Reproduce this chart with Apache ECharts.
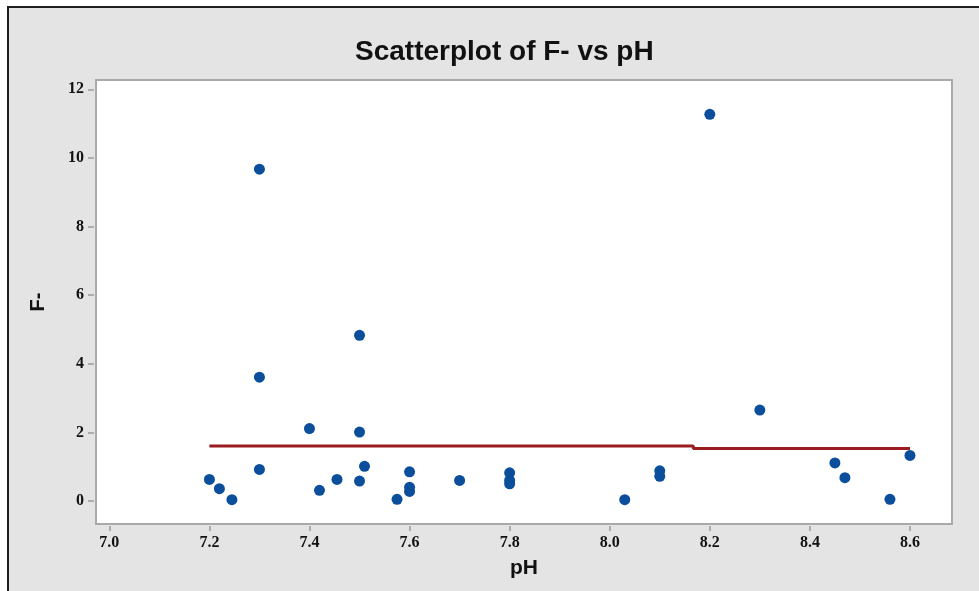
<!DOCTYPE html>
<html>
<head>
<meta charset="utf-8">
<title>Scatterplot of F- vs pH</title>
<script src="https://cdn.jsdelivr.net/npm/echarts@6/dist/echarts.min.js"></script>
<style>
  html, body { margin: 0; padding: 0; background: #fff; }
  /* outer graph window, black edge on top and left */
  .frame {
    position: absolute;
    left: 7px;
    top: 6px;
    width: 970px;
    height: 583px;
    border-left: 2px solid #1e1e1e;
    border-top: 2px solid #1e1e1e;
    background: #e4e4e4;
  }
  #chart { width: 970px; height: 583px; }
</style>
</head>
<body>
<div class="frame">
  <div id="chart"></div>
</div>
<script>
const phValues = [
  7.20, 7.22, 7.245, 7.30, 7.30, 7.30, 7.40, 7.42, 7.455, 7.50,
  7.50, 7.50, 7.51, 7.575, 7.60, 7.60, 7.60, 7.70, 7.80, 7.80,
  7.80, 8.03, 8.10, 8.10, 8.20, 8.30, 8.45, 8.47, 8.56, 8.60
]
const fValues = [
  0.63, 0.36, 0.04, 9.67, 3.61, 0.92, 2.11, 0.31, 0.63, 4.83,
  2.01, 0.58, 1.01, 0.05, 0.85, 0.40, 0.28, 0.60, 0.82, 0.60,
  0.50, 0.04, 0.88, 0.72, 11.27, 2.65, 1.11, 0.68, 0.05, 1.33
]

// smoother (nearly flat, small step near 8.17)
const fitPh = [7.20, 8.167, 8.167, 8.60]
const fitF = [1.60, 1.60, 1.53, 1.53]

// tick labels
const xTicks = [7.0, 7.2, 7.4, 7.6, 7.8, 8.0, 8.2, 8.4, 8.6]
const yTicks = [0, 2, 4, 6, 8, 10, 12]

const points = phValues.map((x, i) => [x, fValues[i]])
const fitLine = fitPh.map((x, i) => [x, fitF[i]])

const chart = echarts.init(document.getElementById('chart'))

const tickLabelStyle = {
  fontFamily: 'Liberation Serif',
  fontWeight: 'bold',
  fontSize: 16,
  color: '#111'
}

const option = {
  animation: false,
  backgroundColor: '#e4e4e4',
  title: {
    text: 'Scatterplot of F- vs pH',
    left: 341,
    top: 25,
    textStyle: {
      fontFamily: 'Liberation Sans',
      fontWeight: 'bold',
      fontSize: 28,
      color: '#111'
    }
  },
  grid: {
    left: 87,
    top: 72,
    right: 27,
    bottom: 67,
    show: true,
    backgroundColor: '#fff',
    borderColor: '#a9a9a9',
    borderWidth: 2
  },
  xAxis: {
    type: 'value',
    min: 6.9734,
    max: 8.684,
    offset: 2,
    name: 'pH',
    nameLocation: 'middle',
    nameGap: 32,
    nameTextStyle: {
      fontFamily: 'Liberation Sans',
      fontWeight: 'bold',
      fontSize: 21,
      color: '#111'
    },
    axisLine: { show: false, onZero: false },
    axisTick: {
      show: true,
      length: 5,
      customValues: xTicks,
      lineStyle: { color: '#9a9a9a', width: 1.5 }
    },
    axisLabel: {
      customValues: xTicks,
      margin: 9,
      formatter: v => v.toFixed(1),
      ...tickLabelStyle
    },
    splitLine: { show: false }
  },
  yAxis: {
    type: 'value',
    min: -0.67,
    max: 12.27,
    offset: 2,
    name: 'F-',
    nameLocation: 'middle',
    nameGap: 46,
    nameTextStyle: {
      fontFamily: 'Liberation Sans',
      fontWeight: 'bold',
      fontSize: 20,
      color: '#111'
    },
    axisLine: { show: false, onZero: false },
    axisTick: {
      show: true,
      length: 6,
      customValues: yTicks,
      lineStyle: { color: '#9a9a9a', width: 1.5 }
    },
    axisLabel: {
      customValues: yTicks,
      margin: 10,
      ...tickLabelStyle
    },
    splitLine: { show: false }
  },
  series: [
    {
      type: 'line',
      data: fitLine,
      symbol: 'none',
      lineStyle: { color: '#9b1c1f', width: 3 },
      z: 2
    },
    {
      type: 'scatter',
      data: points,
      symbol: 'circle',
      symbolSize: 11,
      itemStyle: { color: '#0b4f9c', opacity: 1 },
      z: 3
    }
  ]
}

chart.setOption(option)
</script>
</body>
</html>
